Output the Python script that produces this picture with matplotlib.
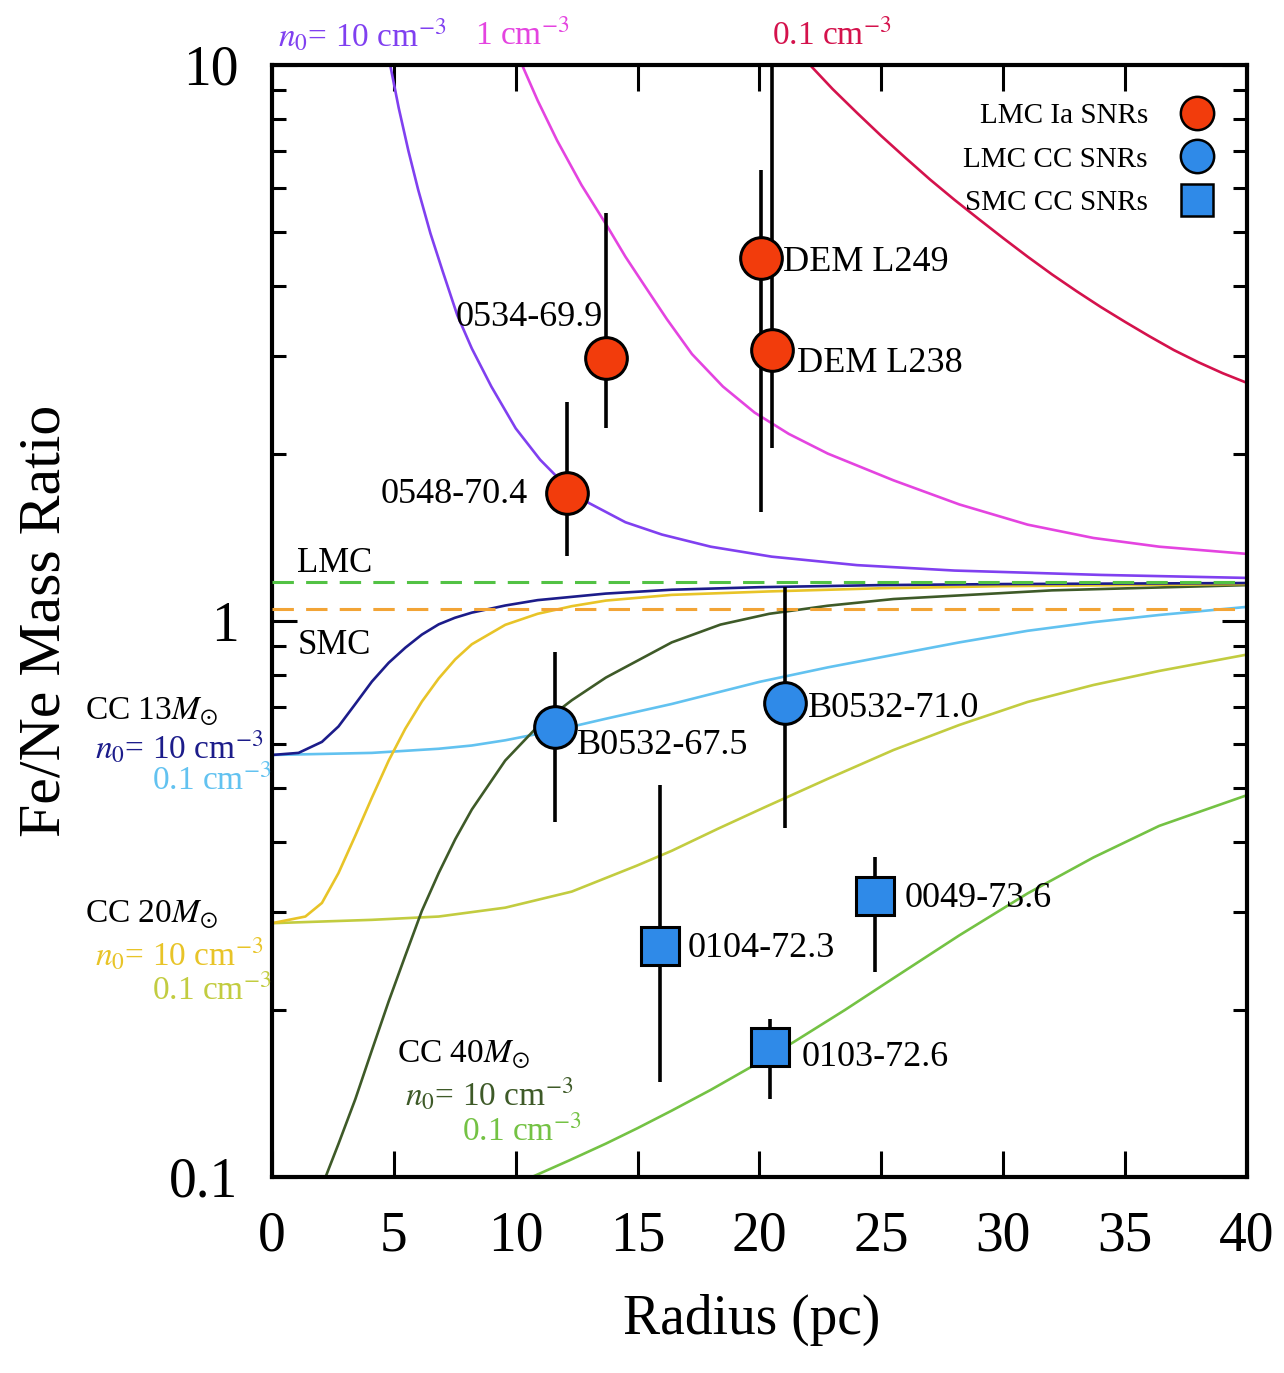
import matplotlib
matplotlib.use("Agg")
import matplotlib.pyplot as plt
from matplotlib.ticker import FixedLocator, LogLocator, NullFormatter, FixedFormatter
from matplotlib.lines import Line2D

plt.rcParams['font.family'] = ['Liberation Serif', 'DejaVu Serif']
plt.rcParams['mathtext.fontset'] = 'stix'

# ---------------- data ----------------
# Type Ia model curves (Fe/Ne vs radius)
ia10_x = [4.85, 5.2, 5.6, 6.0, 6.5, 7.0, 7.6, 8.2, 9.0, 10.0, 11.0, 12.0, 13.0, 14.5, 16.0, 18.0, 20.5, 24.0, 28.0, 34.0, 40.0]
ia10_y = [10.0, 8.37, 7.0, 5.96, 4.98, 4.26, 3.55, 3.09, 2.64, 2.22, 1.95, 1.76, 1.63, 1.505, 1.43, 1.36, 1.305, 1.26, 1.232, 1.21, 1.195]
ia1_x = [10.26, 10.9, 11.7, 12.7, 13.74, 14.5, 15.3, 16.2, 17.23, 18.5, 19.8, 21.2, 22.8, 25.5, 28.2, 31.0, 33.7, 36.4, 40.0]
ia1_y = [10.0, 8.63, 7.31, 6.08, 5.14, 4.52, 4.0, 3.49, 3.02, 2.64, 2.37, 2.17, 2.0, 1.79, 1.62, 1.49, 1.41, 1.36, 1.32]
ia01_x = [22.07, 23, 24, 25, 26, 27, 28, 29, 30, 31, 32, 33, 34, 35, 36, 37, 38, 39, 40]
ia01_y = [10.0, 9.05, 8.2, 7.45, 6.8, 6.22, 5.72, 5.28, 4.88, 4.52, 4.2, 3.92, 3.67, 3.45, 3.25, 3.07, 2.92, 2.79, 2.68]

# Core-collapse model curves
cc13_10_x = [0, 1.09, 2.05, 2.73, 3.42, 4.10, 4.79, 5.47, 6.15, 6.84, 7.5, 8.2, 9.57, 10.9, 13.7, 16.4, 20.0, 25.0, 30.0, 40.0]
cc13_10_y = [0.574, 0.579, 0.606, 0.646, 0.709, 0.778, 0.841, 0.895, 0.945, 0.986, 1.013, 1.035, 1.066, 1.09, 1.12, 1.138, 1.15, 1.16, 1.165, 1.17]
cc13_01_x = [0, 4.1, 6.84, 8.2, 9.57, 11.6, 13.7, 16.4, 20.0, 22.8, 25.5, 28.2, 31.0, 33.7, 36.4, 40.0]
cc13_01_y = [0.574, 0.579, 0.589, 0.597, 0.610, 0.635, 0.667, 0.709, 0.777, 0.825, 0.869, 0.915, 0.96, 0.995, 1.025, 1.06]
cc20_10_x = [0, 1.37, 2.05, 2.73, 3.42, 4.10, 4.79, 5.47, 6.15, 6.84, 7.52, 8.2, 9.57, 10.9, 12.3, 13.7, 16.4, 20.4, 25.0, 30.0, 40.0]
cc20_10_y = [0.286, 0.294, 0.311, 0.352, 0.411, 0.481, 0.561, 0.640, 0.716, 0.788, 0.853, 0.908, 0.984, 1.03, 1.063, 1.088, 1.114, 1.13, 1.145, 1.155, 1.165]
cc20_01_x = [0, 4.1, 6.84, 9.57, 12.3, 14.97, 16.4, 18.3, 20.2, 22.8, 25.5, 28.2, 31.0, 33.7, 36.4, 40.0]
cc20_01_y = [0.286, 0.29, 0.294, 0.305, 0.326, 0.363, 0.386, 0.423, 0.462, 0.52, 0.586, 0.65, 0.715, 0.767, 0.813, 0.87]
cc40_10_x = [2.2, 2.73, 3.42, 4.1, 4.79, 5.47, 6.15, 6.84, 7.52, 8.2, 9.57, 10.9, 12.3, 13.7, 16.4, 18.4, 20.4, 22.8, 25.5, 32.0, 40.0]
cc40_10_y = [0.10, 0.1147, 0.138, 0.169, 0.207, 0.250, 0.301, 0.352, 0.405, 0.458, 0.561, 0.646, 0.72, 0.791, 0.915, 0.985, 1.03, 1.065, 1.095, 1.135, 1.16]
cc40_01_x = [10.67, 12.2, 13.7, 15.0, 16.4, 18.0, 19.7, 21.4, 23.5, 25.5, 28.2, 31.0, 33.7, 36.4, 40.0]
cc40_01_y = [0.100, 0.1071, 0.1148, 0.1224, 0.1316, 0.1434, 0.1581, 0.1748, 0.1996, 0.2278, 0.272, 0.3236, 0.3755, 0.428, 0.486]

lmc_ratio = 1.175
smc_ratio = 1.05

# Observed SNRs
ia_names = ['0548-70.4', '0534-69.9', 'DEM L249', 'DEM L238']
ia_r = [12.1, 13.7, 20.05, 20.5]
ia_val = [1.70, 2.97, 4.50, 3.07]
ia_lo = [1.31, 2.22, 1.57, 2.05]
ia_hi = [2.48, 5.42, 6.47, 12.0]

lcc_names = ['B0532-67.5', 'B0532-71.0']
lcc_r = [11.6, 21.05]
lcc_val = [0.645, 0.712]
lcc_lo = [0.435, 0.424]
lcc_hi = [0.88, 1.15]

scc_names = ['0104-72.3', '0049-73.6', '0103-72.6']
scc_r = [15.9, 24.75, 20.45]
scc_val = [0.260, 0.320, 0.171]
scc_lo = [0.148, 0.234, 0.138]
scc_hi = [0.507, 0.376, 0.192]

x_ticks = [0, 5, 10, 15, 20, 25, 30, 35, 40]
y_ticks = [0.1, 1, 10]
y_tick_labels = ['0.1', '1', '10']

# ---------------- figure ----------------
fig = plt.figure(figsize=(12.84, 13.73), dpi=100)
ax = fig.add_axes([0.2118, 0.1428, 0.7594, 0.8099])
ax.set_yscale('log')
ax.set_xlim(0, 40)
ax.set_ylim(0.1, 10)

c_ia10 = '#8040f0'
c_ia1 = '#e444e0'
c_ia01 = '#d4124c'
c_13_10 = '#1c1c8a'
c_13_01 = '#62c2f0'
c_20_10 = '#e8c428'
c_20_01 = '#c2cc40'
c_40_10 = '#3e5a28'
c_40_01 = '#74c244'

lw = 1.9
kw = dict(lw=lw, zorder=2, solid_joinstyle='round')
ax.plot(ia10_x, ia10_y, color=c_ia10, **kw)
ax.plot(ia1_x, ia1_y, color=c_ia1, **kw)
ax.plot(ia01_x, ia01_y, color=c_ia01, **kw)
ax.plot(cc13_01_x, cc13_01_y, color=c_13_01, **kw)
ax.plot(cc20_01_x, cc20_01_y, color=c_20_01, **kw)
ax.plot(cc40_01_x, cc40_01_y, color=c_40_01, **kw)
ax.plot(cc40_10_x, cc40_10_y, color=c_40_10, **kw)
ax.plot(cc20_10_x, cc20_10_y, color=c_20_10, **kw)
ax.plot(cc13_10_x, cc13_10_y, color=c_13_10, **kw)

ax.axhline(lmc_ratio, color='#52c244', lw=2.2, dashes=(7, 4), zorder=3)
ax.axhline(smc_ratio, color='#f2a436', lw=2.2, dashes=(7, 4), zorder=3)

def errs(v, lo, hi):
    return [[a - b for a, b in zip(v, lo)], [b - a for a, b in zip(v, hi)]]

ekw = dict(fmt='none', ecolor='black', elinewidth=2.6, capsize=0, zorder=4)
ax.errorbar(ia_r, ia_val, yerr=errs(ia_val, ia_lo, ia_hi), **ekw)
ax.errorbar(lcc_r, lcc_val, yerr=errs(lcc_val, lcc_lo, lcc_hi), **ekw)
ax.errorbar(scc_r, scc_val, yerr=errs(scc_val, scc_lo, scc_hi), **ekw)

red = '#f23c0c'
blue = '#2f8ae8'
ax.plot(ia_r, ia_val, 'o', ms=30, mfc=red, mec='black', mew=2.2, ls='none', zorder=5)
ax.plot(lcc_r, lcc_val, 'o', ms=30, mfc=blue, mec='black', mew=2.2, ls='none', zorder=5)
ax.plot(scc_r, scc_val, 's', ms=28, mfc=blue, mec='black', mew=2.2, ls='none', zorder=5)

# point labels
lfs = 26
ax.text(13.58, 3.51, '0534-69.9', fontsize=lfs, ha='right', va='center', zorder=6)
ax.text(10.5, 1.686, '0548-70.4', fontsize=lfs, ha='right', va='center', zorder=6)
ax.text(20.96, 4.42, 'DEM L249', fontsize=lfs, ha='left', va='center', zorder=6)
ax.text(21.54, 2.90, 'DEM L238', fontsize=lfs, ha='left', va='center', zorder=6)
ax.text(12.51, 0.598, 'B0532-67.5', fontsize=lfs, ha='left', va='center', zorder=6)
ax.text(21.99, 0.697, 'B0532-71.0', fontsize=lfs, ha='left', va='center', zorder=6)
ax.text(17.07, 0.258, '0104-72.3', fontsize=lfs, ha='left', va='center', zorder=6)
ax.text(25.97, 0.317, '0049-73.6', fontsize=lfs, ha='left', va='center', zorder=6)
ax.text(21.74, 0.164, '0103-72.6', fontsize=lfs, ha='left', va='center', zorder=6)

ax.text(1.03, 1.27, 'LMC', fontsize=25, ha='left', va='center')
ax.text(1.07, 0.905, 'SMC', fontsize=25, ha='left', va='center')

# model labels
mfs = 24
n0 = r'$n_0$= 10 cm$^{-3}$'
c01 = r'0.1 cm$^{-3}$'
ax.text(0.25, 11.3, n0, color=c_ia10, fontsize=mfs, ha='left', va='center', clip_on=False)
ax.text(8.33, 11.3, r'1 cm$^{-3}$', color=c_ia1, fontsize=mfs, ha='left', va='center', clip_on=False)
ax.text(20.5, 11.3, c01, color=c_ia01, fontsize=mfs, ha='left', va='center', clip_on=False)

ax.text(-7.67, 0.686, r'CC 13$M_{\odot}$', color='black', fontsize=mfs, ha='left', va='center', clip_on=False)
ax.text(-7.26, 0.591, n0, color=c_13_10, fontsize=mfs, ha='left', va='center', clip_on=False)
ax.text(-4.92, 0.518, c01, color=c_13_01, fontsize=mfs, ha='left', va='center', clip_on=False)
ax.text(-7.67, 0.296, r'CC 20$M_{\odot}$', color='black', fontsize=mfs, ha='left', va='center', clip_on=False)
ax.text(-7.26, 0.251, n0, color=c_20_10, fontsize=mfs, ha='left', va='center', clip_on=False)
ax.text(-4.92, 0.217, c01, color=c_20_01, fontsize=mfs, ha='left', va='center', clip_on=False)
ax.text(5.13, 0.166, r'CC 40$M_{\odot}$', color='black', fontsize=mfs, ha='left', va='center')
ax.text(5.46, 0.141, n0, color=c_40_10, fontsize=mfs, ha='left', va='center')
ax.text(7.79, 0.121, c01, color=c_40_01, fontsize=mfs, ha='left', va='center')

# legend
handles = [
    Line2D([], [], marker='o', ls='none', ms=24, mfc=red, mec='black', mew=1.8),
    Line2D([], [], marker='o', ls='none', ms=24, mfc=blue, mec='black', mew=1.8),
    Line2D([], [], marker='s', ls='none', ms=23, mfc=blue, mec='black', mew=1.8),
]
ax.legend(handles, ['LMC Ia SNRs', 'LMC CC SNRs', 'SMC CC SNRs'], loc='upper right',
          bbox_to_anchor=(0.979, 0.966), frameon=False, markerfirst=False,
          fontsize=21, borderpad=0, borderaxespad=0, handlelength=2.0,
          handletextpad=0.7, labelspacing=0.58)

# axes styling
for s in ax.spines.values():
    s.set_linewidth(3.0)
ax.xaxis.set_major_locator(FixedLocator(x_ticks))
ax.yaxis.set_major_locator(FixedLocator(y_ticks))
ax.yaxis.set_major_formatter(FixedFormatter(y_tick_labels))
ax.yaxis.set_minor_locator(LogLocator(base=10, subs=[2, 3, 4, 5, 6, 7, 8, 9]))
ax.yaxis.set_minor_formatter(NullFormatter())
ax.tick_params(which='both', direction='in', top=True, right=True, width=2.2)
ax.tick_params(axis='x', which='major', length=19, labelsize=40, pad=24)
ax.tick_params(axis='y', which='major', length=18, labelsize=40, pad=24)
ax.tick_params(axis='y', which='minor', length=10)

ax.set_xlabel('Radius (pc)', fontsize=40)
ax.set_ylabel('Fe/Ne Mass Ratio', fontsize=43)
ax.xaxis.set_label_coords(0.492, -0.105)
ax.yaxis.set_label_coords(-0.205, 0.5)

fig.savefig('out.png', dpi=100)
